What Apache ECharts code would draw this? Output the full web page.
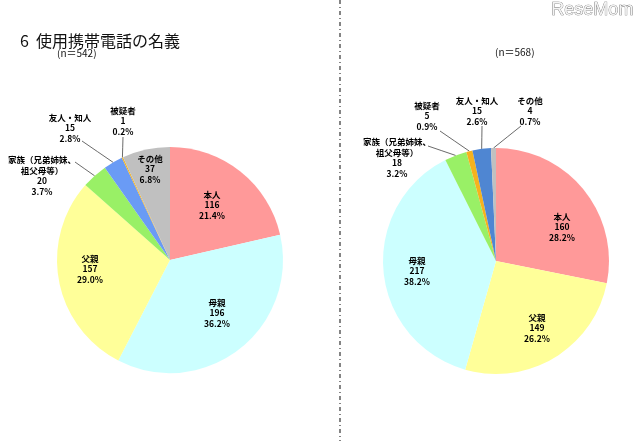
<!DOCTYPE html>
<html><head><meta charset="utf-8">
<script src="https://cdn.jsdelivr.net/npm/echarts@6/dist/echarts.min.js"></script>
<style>html,body{margin:0;padding:0;background:#fff}#c{width:640px;height:443px}</style>
</head><body><div id="c"></div>
<script>
// ---- data ----
const catsL = ['本人','母親','父親','家族（兄弟姉妹、\n祖父母等）','友人・知人','被疑者','その他'];
const valsL = [116,196,157,20,15,1,37];
const catsR = ['本人','父親','母親','家族（兄弟姉妹、\n祖父母等）','被疑者','友人・知人','その他'];
const valsR = [160,149,217,18,5,15,4];
const titleText = '6  使用携帯電話の名義';
const nL = '(n＝542)';
const nR = '(n＝568)';

// ---- styles ----
const colorsL = ['#FF9999','#CCFFFF','#FFFF99','#99F066','#6A9BF5','#F5B21E','#C0C0C0'];
const colorsR = ['#FF9999','#FFFF99','#CCFFFF','#99F066','#F5B21E','#4F86D2','#C0C0C0'];
const centerL = [170,260], centerR = [496,261], R = 113;
const labelPosL = [[212,205],[217,313],[90,269],[42,176],[70,128],[123,121],[150,169]];
const lineStartL = [null,null,null,[75,162],[82,141],[123,137],null];
const labelPosR = [[562,227],[537,328],[417,271],[397,158],[427,116],[477,111],[530,111]];
const lineStartR = [null,null,null,[428,146],[440,131],[482,126],[521,126]];

const chart = echarts.init(document.getElementById('c'), null, {renderer:'canvas'});

function makeSeries(cats, vals, colors, center, labelPos, lineStart){
  const total = vals.reduce((a,b)=>a+b,0);
  const cum = []; let s = 0;
  vals.forEach(v=>{cum.push(s); s+=v;});
  return {
    type:'pie', radius:R, center:center, startAngle:90, clockwise:true,
    avoidLabelOverlap:false, animation:false, silent:true,
    data: cats.map((n,i)=>({name:n, value:vals[i], itemStyle:{color:colors[i]},
      labelLine:{show: !!lineStart[i]}})),
    label:{show:true, position:'outside', color:'#000', fontSize:8.5, fontWeight:'bold',
      lineHeight:10.5, fontFamily:'"Noto Sans CJK JP", sans-serif', align:'center',
      formatter: p => p.name + '\n' + p.value + '\n' + (p.value/total*100).toFixed(1) + '%'},
    labelLine:{lineStyle:{color:'#444', width:0.8}, length:5, length2:5},
    labelLayout: function(p){
      const i = p.dataIndex;
      const o = {x:labelPos[i][0], y:labelPos[i][1], align:'center', verticalAlign:'middle'};
      if (lineStart[i]) {
        const a = (cum[i] + vals[i]/2)/total*2*Math.PI;
        const ex = center[0] + R*Math.sin(a), ey = center[1] - R*Math.cos(a);
        const sx = lineStart[i][0], sy = lineStart[i][1];
        o.labelLinePoints = [[sx,sy],[(sx+ex)/2,(sy+ey)/2],[ex,ey]];
      }
      return o;
    }
  };
}

chart.setOption({
  animation:false,
  backgroundColor:'#fff',
  graphic:[
    {type:'text', left:20, top:33, style:{text:titleText, fontSize:16, fill:'#111',
      fontFamily:'"Noto Sans CJK JP", sans-serif'}},
    {type:'text', left:57, top:48, style:{text:nL, fontSize:10, fill:'#111',
      fontFamily:'"Noto Sans CJK JP", sans-serif'}},
    {type:'text', left:495, top:47, style:{text:nR, fontSize:10, fill:'#111',
      fontFamily:'"Noto Sans CJK JP", sans-serif'}},
    {type:'text', left:551, top:1, style:{text:'ReseMom', fontSize:18, fill:'#f4f4f4',
      stroke:'#666', lineWidth:0.7, fontFamily:'"Liberation Sans Narrow", "Liberation Sans", sans-serif'}},
    {type:'line', shape:{x1:340, y1:0, x2:340, y2:441},
      style:{stroke:'#333', lineWidth:1.2, lineDash:[4,3,1,3]}}
  ],
  series:[
    makeSeries(catsL, valsL, colorsL, centerL, labelPosL, lineStartL),
    makeSeries(catsR, valsR, colorsR, centerR, labelPosR, lineStartR)
  ]
});
</script></body></html>
